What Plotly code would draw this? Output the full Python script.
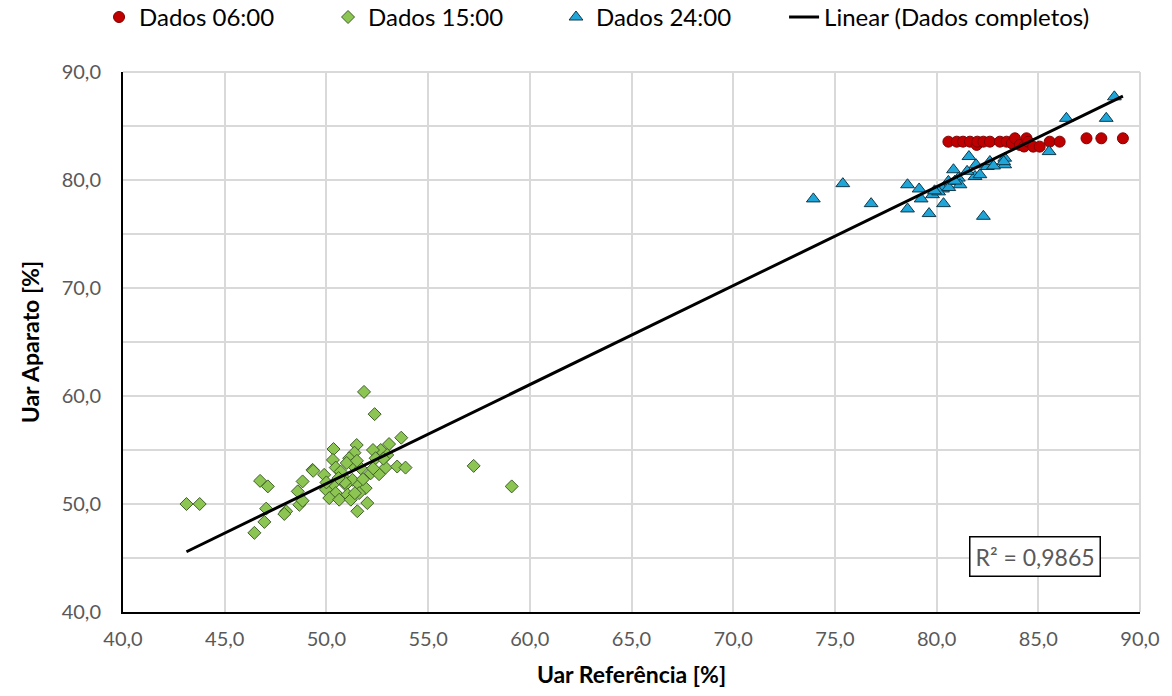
import plotly.graph_objects as go

# ---- Data ----
x_0600 = [80.58, 80.99, 81.30, 81.64, 81.97, 82.00, 82.30, 82.62, 83.11, 83.44, 83.70,
          83.85, 84.09, 84.30, 84.42, 84.50, 84.75, 85.07, 85.56, 86.05, 87.37, 88.10, 89.16]
y_0600 = [83.55, 83.55, 83.55, 83.55, 83.25, 83.55, 83.55, 83.55, 83.55, 83.55, 83.40,
          83.86, 83.25, 83.10, 83.86, 83.55, 83.09, 83.09, 83.55, 83.55, 83.86, 83.86, 83.86]

x_1500 = [51.85, 52.37, 53.68, 53.08, 52.67, 52.29, 51.49, 51.38, 50.35, 50.32, 51.12,
          51.28, 50.46, 49.32, 49.89, 48.83, 51.69, 52.18, 52.59, 52.91, 53.48, 53.89,
          52.42, 52.99, 50.79, 51.28, 50.30, 50.95, 51.61, 51.93, 49.98, 50.46, 51.04,
          51.61, 50.14, 50.63, 51.20, 51.52, 52.01, 48.59, 48.02, 47.93, 48.67, 48.83,
          57.24, 59.11, 43.12, 43.77, 46.74, 47.12, 47.04, 46.95, 46.46, 49.35, 50.70,
          51.00, 51.80, 52.30, 50.90, 51.40, 50.00, 52.80, 51.50, 50.60]
y_1500 = [60.38, 58.32, 56.14, 55.55, 55.00, 55.00, 55.46, 54.75, 55.09, 54.08, 54.24,
          53.62, 53.37, 53.16, 52.70, 52.09, 53.31, 52.85, 52.76, 53.37, 53.47, 53.37,
          54.24, 54.54, 52.55, 52.24, 51.78, 51.78, 51.78, 51.47, 51.32, 51.01, 50.86,
          51.01, 50.55, 50.40, 50.40, 49.33, 50.09, 51.17, 49.33, 49.08, 49.93, 50.30,
          53.53, 51.63, 50.00, 50.00, 52.14, 51.63, 49.57, 48.34, 47.33, 53.07, 53.00,
          53.80, 52.30, 53.30, 52.00, 51.00, 52.00, 54.20, 54.00, 52.40]

x_2400 = [73.94, 75.39, 76.78, 78.57, 78.57, 79.14, 79.24, 79.63, 79.80, 80.29, 80.34,
          80.58, 80.83, 81.07, 81.15, 81.59, 81.89, 81.94, 82.13, 82.30, 82.49, 82.62,
          83.35, 83.35, 85.53, 86.38, 88.34, 88.74, 80.10, 80.60, 81.50, 82.80, 83.30,
          80.90, 79.90]
y_2400 = [78.25, 79.66, 77.81, 79.56, 77.32, 79.17, 78.25, 76.89, 78.64, 79.17, 77.81,
          79.87, 80.95, 80.18, 79.56, 82.17, 80.33, 81.41, 80.49, 76.64, 81.25, 81.71,
          82.02, 81.41, 82.63, 85.71, 85.71, 87.70, 78.90, 79.30, 80.80, 81.30, 81.70,
          79.90, 79.00]

# Linear trend of the complete data (coefficients)
trend_slope = 0.9165
trend_intercept = 6.06
r2_text = "R² = 0,9865"

series_names = ["Dados 06:00", "Dados 15:00", "Dados 24:00", "Linear (Dados completos)"]

x_ticks = [40, 45, 50, 55, 60, 65, 70, 75, 80, 85, 90]
y_ticks = [40, 50, 60, 70, 80, 90]

# ---- Figure ----
all_x = x_0600 + x_1500 + x_2400
xmin, xmax = min(all_x), max(all_x)
trend_x = [xmin, xmax]
trend_y = [trend_intercept + trend_slope * v for v in trend_x]

FONT = "Lato"
fig = go.Figure()

fig.add_trace(go.Scatter(
    x=x_0600, y=y_0600, mode="markers", name=series_names[0], legend="legend",
    marker=dict(symbol="circle", size=11, color="#C00000",
                line=dict(color="#7F0000", width=1))))
fig.add_trace(go.Scatter(
    x=x_1500, y=y_1500, mode="markers", name=series_names[1], legend="legend2",
    marker=dict(symbol="diamond", size=10, color="#8DC553",
                line=dict(color="#3F5F2A", width=1))))
fig.add_trace(go.Scatter(
    x=x_2400, y=y_2400, mode="markers", name=series_names[2], legend="legend3",
    marker=dict(symbol="triangle-up", size=12, color="#1FA5D8",
                line=dict(color="#10394A", width=1))))
fig.add_trace(go.Scatter(
    x=trend_x, y=trend_y, mode="lines", name=series_names[3], legend="legend4",
    line=dict(color="#000000", width=3)))

fig.add_annotation(
    x=84.85, y=45.1, xref="x", yref="y", text=r2_text, showarrow=False,
    font=dict(family=FONT, size=23, color="#595959"),
    bgcolor="white", bordercolor="black", borderwidth=1.5, borderpad=5)


def legend_box(xpos):
    return dict(orientation="h", x=xpos, xanchor="left", xref="container",
                y=0.975, yanchor="middle", yref="container",
                font=dict(family=FONT, size=24, color="#000000"),
                bgcolor="rgba(0,0,0,0)", itemsizing="trace")


grid = "#D9D9D9"
fig.update_layout(
    width=1172, height=696,
    paper_bgcolor="white", plot_bgcolor="white",
    margin=dict(l=123, r=30, t=72, b=81),
    separators=",.",
    font=dict(family=FONT, color="#595959"),
    showlegend=True,
    legend=legend_box(0.0845),
    legend2=legend_box(0.2799),
    legend3=legend_box(0.4744),
    legend4=legend_box(0.669),
    xaxis=dict(range=[40, 90], tickvals=x_ticks, tickformat=".1f",
               showgrid=True, gridcolor=grid, gridwidth=2,
               showline=True, linecolor="black", linewidth=2, zeroline=False,
               ticks="", ticklabelstandoff=8,
               tickfont=dict(family=FONT, size=20, color="#595959"),
               title=dict(text="<b>Uar Referência [%]</b>", standoff=18,
                          font=dict(family=FONT, size=23, color="#000000"))),
    yaxis=dict(range=[40, 90], tickvals=y_ticks, tickformat=".1f",
               showgrid=True, gridcolor=grid, gridwidth=2,
               minor=dict(dtick=5, tick0=40, showgrid=True, gridcolor=grid, gridwidth=2),
               showline=True, linecolor="black", linewidth=2, zeroline=False,
               ticks="", ticklabelstandoff=16,
               tickfont=dict(family=FONT, size=20, color="#595959"),
               title=dict(text="<b>Uar Aparato [%]</b>", standoff=16,
                          font=dict(family=FONT, size=23, color="#000000"))),
)

# light border on top and right edges like the gridlines
fig.add_shape(type="line", xref="paper", yref="paper", x0=0, x1=1, y0=1, y1=1,
              line=dict(color=grid, width=2), layer="below")
fig.add_shape(type="line", xref="paper", yref="paper", x0=1, x1=1, y0=0, y1=1,
              line=dict(color=grid, width=2), layer="below")

# remove the default page margin so the figure fills the window exactly
fig.write_html("out.html", config={"displayModeBar": False},
               post_script="document.body.style.margin='0';")
